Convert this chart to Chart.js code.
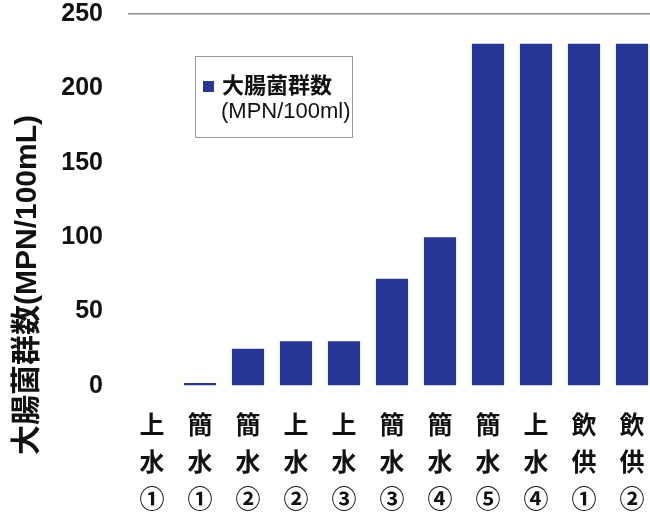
<!DOCTYPE html>
<html>
<head>
<meta charset="utf-8">
<script src="https://cdn.jsdelivr.net/npm/chart.js@4"></script>
<style>
  html, body { margin: 0; padding: 0; background: #fff; }
  #wrap { width: 650px; height: 520px; }
</style>
</head>
<body>
<div id="wrap"><canvas id="c" width="650" height="520"></canvas></div>
<script>
// Sampling sites (stacked vertically under each bar)
const categories = [
  ['上','水','①'], ['簡','水','①'], ['簡','水','②'], ['上','水','②'],
  ['上','水','③'], ['簡','水','③'], ['簡','水','④'], ['簡','水','⑤'],
  ['上','水','④'], ['飲','供','①'], ['飲','供','②']
];
// Coliform counts, MPN/100ml
const coliformCounts = [0, 2, 25, 30, 30, 72, 100, 230, 230, 230, 230];
const seriesName = '大腸菌群数';
const seriesUnit = '(MPN/100ml)';
const yTitle = '大腸菌群数(MPN/100mL)';
const yTicks = [0, 50, 100, 150, 200, 250];

const BAR = '#263796';
const FONT = '"Liberation Sans", "Noto Sans CJK JP", sans-serif';

// Let the plot run slightly past the right edge of the canvas
const PLOT_RIGHT_OVERHANG = 6;
const widenPlot = {
  id: 'widenPlot',
  afterLayout(chart) {
    const x = chart.scales.x;
    x.right += PLOT_RIGHT_OVERHANG;
    x.width = x.right - x.left;
    x.configure();
    chart.chartArea.right = x.right;
    chart.chartArea.width = x.width;
  }
};

// Boxed legend with the series name on two lines
const boxLegend = {
  id: 'boxLegend',
  afterDraw(chart) {
    const ctx = chart.ctx;
    const ds = chart.data.datasets[0];
    ctx.save();
    ctx.strokeStyle = '#9a9a9a';
    ctx.lineWidth = 1;
    ctx.strokeRect(195.5, 56.5, 157, 81);
    ctx.fillStyle = ds.backgroundColor;
    ctx.fillRect(203, 81, 11, 11);
    ctx.fillStyle = '#111';
    ctx.textBaseline = 'middle';
    ctx.textAlign = 'left';
    ctx.font = 'bold 22px ' + FONT;
    ctx.fillText(ds.label, 222, 87);
    ctx.font = '22px ' + FONT;
    ctx.fillText(seriesUnit, 221, 112);
    ctx.restore();
  }
};

// Rotated y-axis title
const yAxisTitle = {
  id: 'yAxisTitle',
  afterDraw(chart) {
    const ctx = chart.ctx;
    ctx.save();
    ctx.translate(28, 285);
    ctx.rotate(-Math.PI / 2);
    ctx.fillStyle = '#111';
    ctx.textAlign = 'center';
    ctx.textBaseline = 'middle';
    ctx.font = 'bold 30px ' + FONT;
    ctx.fillText(yTitle, 0, 0);
    ctx.restore();
  }
};

new Chart(document.getElementById('c'), {
  type: 'bar',
  data: {
    labels: categories,
    datasets: [{
      label: seriesName,
      data: coliformCounts,
      backgroundColor: BAR,
      borderWidth: 0,
      barPercentage: 0.67,
      categoryPercentage: 1.0
    }]
  },
  options: {
    responsive: false,
    animation: false,
    layout: { padding: 0 },
    plugins: {
      legend: { display: false },
      tooltip: { enabled: false }
    },
    scales: {
      x: {
        grid: { display: false, drawTicks: false },
        border: { display: false },
        ticks: {
          color: '#111',
          font: { family: FONT, size: 25, weight: 'bold', lineHeight: 1.48 },
          padding: 23,
          maxRotation: 0,
          autoSkip: false
        },
        afterFit(scale) {
          scale.height = 134;
          scale.paddingLeft = 0;
          scale.paddingRight = 0;
        }
      },
      y: {
        min: 0,
        max: 250,
        afterBuildTicks(scale) { scale.ticks = yTicks.map(v => ({ value: v })); },
        grid: {
          drawTicks: false,
          lineWidth: 1.5,
          color: (c) => (c.tick && c.tick.value === 250) ? '#8c8c8c' : 'rgba(0,0,0,0)'
        },
        border: { display: false },
        ticks: {
          color: '#111',
          font: { family: FONT, size: 25, weight: 'bold' },
          padding: 25
        },
        afterFit(scale) {
          scale.width = 128;
          scale.paddingTop = 14;
          scale.paddingBottom = 0;
        }
      }
    }
  },
  plugins: [widenPlot, boxLegend, yAxisTitle]
});
</script>
</body>
</html>
